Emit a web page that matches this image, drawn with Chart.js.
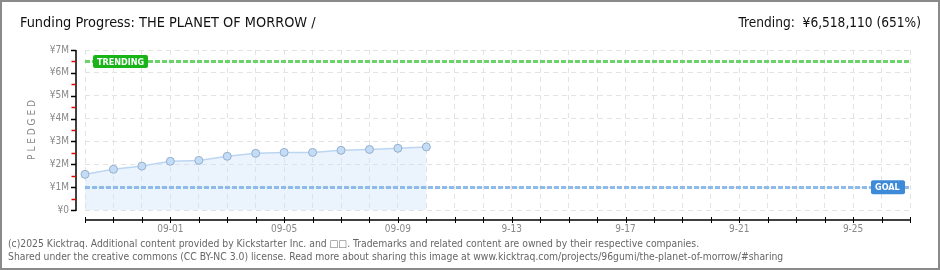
<!DOCTYPE html>
<html lang="en">
<head>
    <meta charset="UTF-8">
    <title>Funding Progress</title>
    <script src="https://cdn.jsdelivr.net/npm/chart.js"></script>
    <style>
        html, body { margin: 0; padding: 0; background: #fff; }
        #wrap { position: relative; width: 940px; height: 270px; box-sizing: border-box; border: 2px solid #8a8a8a; overflow: hidden; }
        #pledgeChart { position: absolute; left: -2px; top: -2px; }
        .txt { position: absolute; font-family: "DejaVu Sans Condensed", "DejaVu Sans", sans-serif; color: #111; white-space: nowrap; }
        #title { left: 18px; top: 12px; font-size: 14.4px; }
        #trend { right: 17px; top: 12px; font-size: 13.6px; }
        .foot { left: 6px; font-size: 10.3px; color: #666; font-family: "DejaVu Sans Condensed", sans-serif; }
    </style>
</head>
<body>
<div id="wrap">
    <canvas id="pledgeChart" width="940" height="270"></canvas>
    <div class="txt" id="title">Funding Progress: THE PLANET OF MORROW /</div>
    <div class="txt" id="trend">Trending: &nbsp;¥6,518,110 (651%)</div>
    <div class="txt foot" style="top:235px">(c)2025 Kicktraq. Additional content provided by Kickstarter Inc. and □□. Trademarks and related content are owned by their respective companies.</div>
    <div class="txt foot" style="top:248px">Shared under the creative commons (CC BY-NC 3.0) license. Read more about sharing this image at www.kicktraq.com/projects/96gumi/the-planet-of-morrow/#sharing</div>
</div>

<script>
    // days shown on the x axis
    const days = ['08-29', '08-30', '08-31', '09-01', '09-02', '09-03', '09-04', '09-05', '09-06', '09-07',
                  '09-08', '09-09', '09-10', '09-11', '09-12', '09-13', '09-14', '09-15', '09-16', '09-17',
                  '09-18', '09-19', '09-20', '09-21', '09-22', '09-23', '09-24', '09-25', '09-26', '09-27'];
    // labels actually printed under the axis (every 4th day)
    const dayLabels = {'09-01': '09-01', '09-05': '09-05', '09-09': '09-09', '09-13': '9-13',
                       '09-17': '9-17', '09-21': '9-21', '09-25': '9-25'};
    // cumulative pledged (yen)
    const pledged = [1560000, 1780000, 1920000, 2130000, 2170000, 2350000, 2480000,
                     2520000, 2520000, 2610000, 2650000, 2700000, 2760000];
    const goal = 1000000;
    const trending = 6518110;
    const yTicks = [0, 1000000, 2000000, 3000000, 4000000, 5000000, 6000000, 7000000];

    const pixFont = '"DejaVu Sans Condensed", "DejaVu Sans", sans-serif';

    function badge(ctx, x, y, w, h, color, text) {
        ctx.fillStyle = color;
        ctx.beginPath();
        ctx.roundRect(x, y, w, h, 2);
        ctx.fill();
        ctx.fillStyle = '#fff';
        ctx.font = 'bold 9px ' + pixFont;
        ctx.textBaseline = 'middle';
        ctx.textAlign = 'left';
        ctx.fillText(text, x + 4, y + h / 2 + 1);
    }

    const kickPlugin = {
        id: 'kick',
        afterDatasetsDraw(chart) {
            const ctx = chart.ctx;
            const area = chart.chartArea;
            const xs = chart.scales.x, ys = chart.scales.y;
            ctx.save();
            // trending + goal lines
            [[trending, '#6ad46a'], [goal, '#8ebbea']].forEach(([v, c]) => {
                const y = Math.round(ys.getPixelForValue(v)) + 0.5;
                ctx.strokeStyle = c;
                ctx.lineWidth = 3;
                ctx.setLineDash([5, 2]);
                ctx.beginPath();
                ctx.moveTo(area.left, y);
                ctx.lineTo(area.right, y);
                ctx.stroke();
            });
            ctx.setLineDash([]);
            const ty = ys.getPixelForValue(trending);
            badge(ctx, area.left + 8, ty - 6, 55, 13, '#18b418', 'TRENDING');
            const gy = ys.getPixelForValue(goal);
            badge(ctx, area.right - 39, gy - 7, 34, 14, '#3d8ad9', 'GOAL');

            // y axis line with ticks
            const ax = area.left - 9;
            ctx.strokeStyle = '#000';
            ctx.lineWidth = 1.5;
            ctx.beginPath();
            ctx.moveTo(ax, area.top);
            ctx.lineTo(ax, area.bottom + 1);
            ctx.stroke();
            yTicks.forEach(v => {
                const y = Math.round(ys.getPixelForValue(v)) + 0.5;
                ctx.beginPath();
                ctx.moveTo(ax - 5, y);
                ctx.lineTo(ax, y);
                ctx.stroke();
            });
            ctx.strokeStyle = '#e00';
            yTicks.slice(1).forEach(v => {
                const y = Math.round(ys.getPixelForValue(v - 500000)) + 0.5;
                ctx.beginPath();
                ctx.moveTo(ax - 4.5, y);
                ctx.lineTo(ax - 0.75, y);
                ctx.stroke();
            });

            // x axis line with ticks
            const ay = area.bottom + 10;
            ctx.strokeStyle = '#000';
            ctx.lineWidth = 1.5;
            ctx.beginPath();
            ctx.moveTo(area.left, ay);
            ctx.lineTo(area.right, ay);
            ctx.stroke();
            ctx.lineWidth = 1;
            days.forEach((d, i) => {
                const x = Math.round(xs.getPixelForValue(i)) + 0.5;
                ctx.beginPath();
                ctx.moveTo(x, ay - 3);
                ctx.lineTo(x, ay + 3);
                ctx.stroke();
            });
            ctx.restore();
        }
    };

    const ctx = document.getElementById('pledgeChart').getContext('2d');
    new Chart(ctx, {
        type: 'line',
        data: {
            labels: days,
            datasets: [{
                label: 'Pledged',
                data: pledged,
                fill: 'origin',
                backgroundColor: 'rgba(205,225,248,0.4)',
                borderColor: '#bcd6f2',
                borderWidth: 1.5,
                tension: 0,
                pointRadius: 4,
                pointBackgroundColor: '#c4dcf6',
                pointBorderColor: '#94b0cc',
                pointBorderWidth: 1
            }]
        },
        options: {
            responsive: false,
            animation: false,
            layout: { padding: { left: 0, top: 50, right: 30, bottom: 30 } },
            plugins: { legend: { display: false }, tooltip: { enabled: false } },
            scales: {
                x: {
                    offset: false,
                    afterFit: s => { s.height = 30; },
                    border: { display: false, dash: [5, 4] },
                    grid: { color: '#e3e3e3', drawTicks: false },
                    ticks: {
                        autoSkip: false,
                        maxRotation: 0,
                        padding: 13,
                        color: '#888',
                        font: { family: pixFont, size: 10 },
                        callback: (v, i) => dayLabels[days[i]] || ''
                    }
                },
                y: {
                    min: 0,
                    max: 7000000,
                    afterFit: s => { s.width = 85; },
                    border: { display: false, dash: [5, 4] },
                    grid: { color: '#e3e3e3', drawTicks: false },
                    title: {
                        display: true,
                        text: 'P L E D G E D',
                        color: '#888',
                        font: { family: pixFont, size: 10 },
                        padding: { top: 26, bottom: 0 }
                    },
                    ticks: {
                        stepSize: 1000000,
                        padding: 16,
                        color: '#888',
                        font: { family: pixFont, size: 10 },
                        callback: v => v === 0 ? '¥0' : '¥' + (v / 1000000) + 'M'
                    }
                }
            }
        },
        plugins: [kickPlugin]
    });
</script>
</body>
</html>
